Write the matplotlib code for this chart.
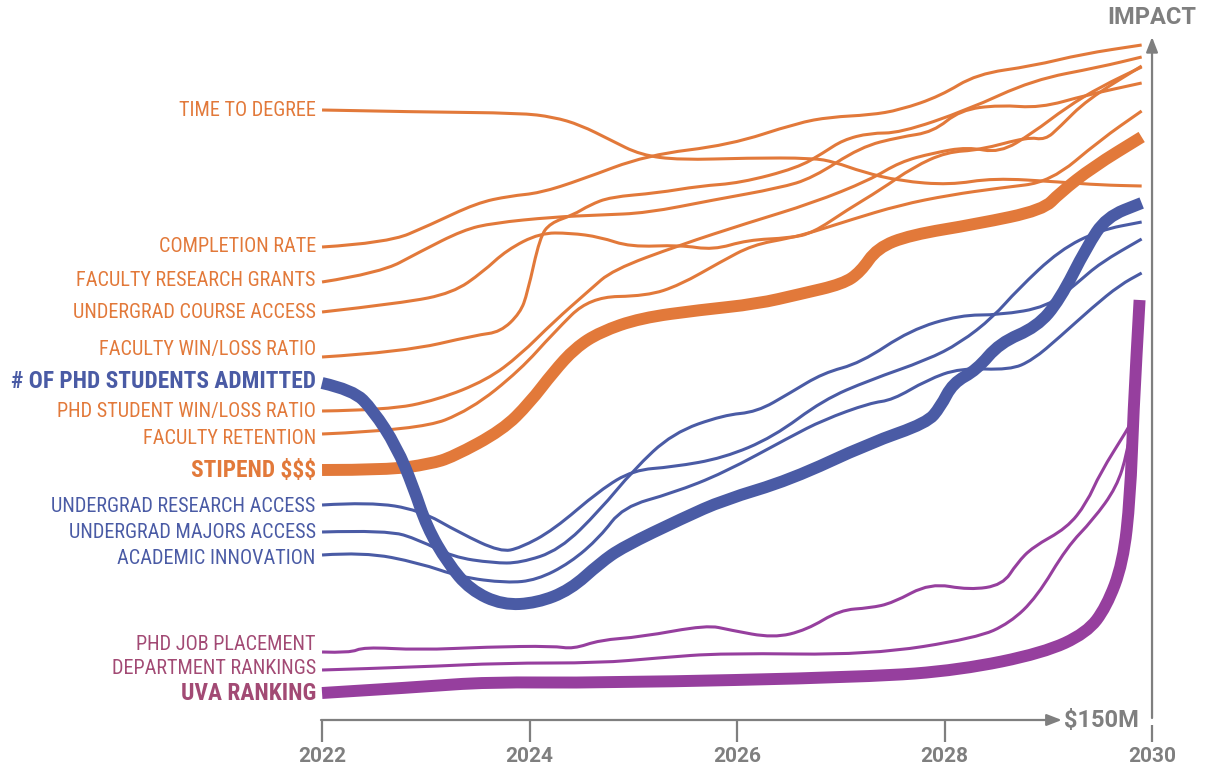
#Description: impact of funding over time, one line per measure, labelled at the left

#import the libraries
import matplotlib
matplotlib.use('Agg')
import matplotlib.pyplot as plt
from matplotlib.path import Path
from matplotlib.patches import PathPatch
from matplotlib import font_manager

#fonts: a narrow family for the labels, a wider one for the axes
names = set(f.name for f in font_manager.fontManager.ttflist)
narrow = [n for n in ['Roboto Condensed', 'Liberation Sans Narrow', 'Roboto'] if n in names]
plt.rcParams['font.family'] = narrow[:1] + ['DejaVu Sans']
AXIS_FONT = ['Roboto', 'DejaVu Sans']

#colours
ORANGE = '#E2793A'
BLUE = '#4A5BA5'
PURPLE = '#963F9E'
MAUVE = '#A24A74'
GREY = '#7F7F7F'

#store the data (year, impact)
ttd_x = [2022.0, 2022.94, 2023.91, 2024.23, 2024.49, 2024.78, 2025.07, 2025.45, 2026.10, 2026.73, 2026.94, 2027.21, 2027.57, 2028.05, 2028.47, 2029.11, 2029.50, 2029.90]
ttd_y = [61.0, 60.8, 60.7, 60.3, 59.5, 58.0, 56.5, 56.0, 56.2, 56.2, 55.8, 54.8, 53.9, 53.5, 54.2, 53.8, 53.5, 53.4]

cr_x = [2022.0, 2022.63, 2023.04, 2023.49, 2023.81, 2024.10, 2024.49, 2025.13, 2025.93, 2026.58, 2026.90, 2027.28, 2027.57, 2027.96, 2028.31, 2028.85, 2029.33, 2029.90]
cr_y = [47.3, 47.7, 49.5, 51.7, 52.4, 52.7, 54.0, 56.5, 57.5, 59.7, 60.3, 60.5, 61.0, 62.4, 64.6, 65.4, 66.6, 67.5]

frg_x = [2022.0, 2022.56, 2022.94, 2023.36, 2023.65, 2024.23, 2024.68, 2025.13, 2025.77, 2026.41, 2026.73, 2027.19, 2027.57, 2027.89, 2028.15, 2028.53, 2028.92, 2029.37, 2029.90]
frg_y = [43.8, 44.7, 46.8, 49.0, 49.7, 50.3, 50.5, 50.7, 52.0, 53.2, 54.2, 57.3, 58.3, 58.8, 61.0, 61.5, 61.2, 62.5, 63.7]

uca_x = [2022.0, 2022.78, 2023.26, 2023.55, 2023.78, 2024.10, 2024.39, 2024.68, 2024.97, 2025.45, 2025.77, 2026.10, 2026.51, 2026.73, 2027.06, 2027.38, 2027.70, 2028.02, 2028.34, 2028.80, 2028.97, 2029.11, 2029.37, 2029.90]
uca_y = [40.8, 41.7, 42.7, 44.8, 47.0, 48.7, 48.7, 48.3, 47.3, 47.5, 47.0, 48.0, 48.2, 48.7, 51.0, 53.0, 55.3, 56.8, 57.0, 58.3, 58.0, 59.3, 62.0, 65.4]

fwl_x = [2022.0, 2022.78, 2023.49, 2023.72, 2023.91, 2023.98, 2024.10, 2024.20, 2024.42, 2024.58, 2024.78, 2025.23, 2025.64, 2026.03, 2026.58, 2026.83, 2027.02, 2027.28, 2027.57, 2028.22, 2028.85, 2029.50, 2029.90]
fwl_y = [36.3, 36.8, 38.5, 38.8, 40.7, 42.7, 48.3, 49.7, 50.5, 51.5, 52.3, 52.7, 53.4, 53.7, 55.2, 56.7, 58.0, 58.7, 58.7, 61.0, 64.0, 65.3, 66.3]

pswl_x = [2022.0, 2022.63, 2023.11, 2023.59, 2023.91, 2024.23, 2024.58, 2024.80, 2025.45, 2026.10, 2026.73, 2027.28, 2027.57, 2027.89, 2028.22, 2028.53, 2028.85, 2029.18, 2029.50, 2029.90]
pswl_y = [30.9, 31.0, 32.0, 34.0, 36.5, 39.8, 43.0, 45.0, 47.5, 49.7, 51.7, 54.0, 55.8, 56.7, 57.3, 56.7, 58.7, 61.3, 63.3, 65.3]

fr_x = [2022.0, 2022.94, 2023.43, 2023.91, 2024.23, 2024.58, 2025.13, 2025.45, 2025.84, 2026.15, 2026.51, 2026.73, 2027.09, 2027.57, 2028.05, 2028.53, 2029.02, 2029.50, 2029.90]
fr_y = [28.6, 29.0, 31.0, 35.0, 38.7, 42.3, 42.4, 43.5, 45.8, 47.5, 48.2, 48.8, 50.0, 51.5, 52.5, 53.2, 53.8, 58.0, 60.9]

stipend_x = [2022.0, 2022.63, 2023.04, 2023.26, 2023.74, 2024.00, 2024.23, 2024.44, 2024.68, 2025.07, 2025.64, 2026.19, 2026.61, 2027.02, 2027.19, 2027.35, 2027.67, 2028.31, 2028.95, 2029.11, 2029.43, 2029.90]
stipend_y = [25.0, 25.0, 25.6, 26.3, 29.0, 31.7, 34.8, 37.2, 38.8, 40.2, 41.0, 41.6, 42.6, 43.6, 44.8, 47.2, 48.5, 49.6, 51.0, 52.7, 55.3, 58.3]

phd_x = [2022.0, 2022.30, 2022.49, 2022.72, 2022.88, 2023.01, 2023.21, 2023.43, 2023.74, 2024.07, 2024.39, 2024.68, 2024.90, 2025.48, 2025.87, 2026.51, 2027.28, 2027.83, 2027.96, 2028.08, 2028.31, 2028.53, 2028.89, 2029.11, 2029.37, 2029.56, 2029.90]
phd_y = [33.7, 33.0, 31.0, 27.3, 23.3, 19.3, 15.7, 13.0, 11.5, 11.7, 13.0, 15.7, 17.3, 20.2, 22.0, 24.0, 27.7, 29.7, 31.3, 33.7, 35.0, 37.7, 39.3, 42.0, 47.3, 50.3, 51.7]

ura_x = [2022.0, 2022.46, 2022.94, 2023.33, 2023.72, 2023.91, 2024.23, 2024.68, 2025.00, 2025.38, 2025.87, 2026.35, 2026.83, 2027.28, 2027.83, 2028.15, 2028.47, 2028.70, 2029.11, 2029.50, 2029.90]
ura_y = [21.5, 21.8, 21.0, 18.7, 16.8, 17.2, 19.0, 23.0, 25.0, 25.3, 26.2, 28.3, 32.0, 34.0, 36.0, 37.7, 40.3, 43.0, 47.0, 49.0, 49.8]

uma_x = [2022.0, 2022.63, 2022.94, 2023.26, 2023.65, 2023.91, 2024.29, 2024.68, 2025.00, 2025.38, 2025.87, 2026.19, 2026.51, 2026.83, 2027.19, 2027.67, 2028.15, 2028.53, 2028.99, 2029.28, 2029.50, 2029.90]
uma_y = [18.8, 19.0, 18.0, 16.3, 15.7, 15.7, 17.0, 21.0, 25.0, 28.7, 30.5, 30.8, 32.7, 34.7, 35.7, 39.0, 40.5, 40.5, 41.3, 43.7, 45.7, 48.1]

ai_x = [2022.0, 2022.40, 2022.94, 2023.33, 2023.78, 2024.07, 2024.39, 2024.68, 2024.90, 2025.38, 2025.87, 2026.51, 2026.83, 2027.28, 2027.50, 2027.83, 2028.15, 2028.63, 2028.85, 2029.11, 2029.43, 2029.69, 2029.90]
ai_y = [16.5, 16.8, 15.7, 14.3, 13.7, 14.0, 15.7, 18.3, 21.3, 22.7, 24.7, 28.3, 30.0, 31.7, 32.0, 34.0, 35.2, 35.0, 36.0, 38.3, 41.3, 43.5, 44.7]

pjp_x = [2022.0, 2022.27, 2022.40, 2022.94, 2023.59, 2024.23, 2024.42, 2024.68, 2025.07, 2025.71, 2025.93, 2026.35, 2026.67, 2026.99, 2027.28, 2027.50, 2027.86, 2028.24, 2028.56, 2028.70, 2028.85, 2029.18, 2029.37, 2029.50, 2029.76, 2029.84]
pjp_y = [6.8, 6.7, 7.3, 7.0, 7.3, 7.4, 7.1, 8.0, 8.3, 9.5, 9.0, 8.2, 9.0, 11.0, 11.2, 11.7, 13.7, 13.0, 13.5, 15.7, 17.3, 19.2, 21.7, 24.7, 29.0, 30.5]

dr_x = [2022.0, 2022.94, 2023.74, 2024.68, 2025.23, 2025.87, 2027.28, 2028.31, 2028.63, 2028.89, 2029.18, 2029.43, 2029.66, 2029.76, 2029.82]
dr_y = [5.0, 5.3, 5.7, 5.7, 6.2, 6.7, 6.5, 8.2, 9.7, 12.3, 17.3, 20.0, 23.3, 26.7, 30.5]

uva_x = [2022.0, 2022.94, 2023.59, 2024.68, 2027.28, 2028.15, 2028.95, 2029.37, 2029.56, 2029.72, 2029.79, 2029.82, 2029.88]
uva_y = [2.7, 3.3, 3.8, 3.7, 4.3, 5.0, 6.7, 8.7, 11.3, 15.7, 22.3, 30.7, 42.0]

year_ticks = [2022, 2024, 2026, 2028, 2030]

#(label, x, y, colour, text colour, bold?, label height) in drawing order
series = [
    ('TIME TO DEGREE', ttd_x, ttd_y, ORANGE, ORANGE, False, 61.0),
    ('COMPLETION RATE', cr_x, cr_y, ORANGE, ORANGE, False, 47.4),
    ('FACULTY RESEARCH GRANTS', frg_x, frg_y, ORANGE, ORANGE, False, 44.0),
    ('UNDERGRAD COURSE ACCESS', uca_x, uca_y, ORANGE, ORANGE, False, 40.8),
    ('FACULTY WIN/LOSS RATIO', fwl_x, fwl_y, ORANGE, ORANGE, False, 37.0),
    ('PHD STUDENT WIN/LOSS RATIO', pswl_x, pswl_y, ORANGE, ORANGE, False, 30.8),
    ('FACULTY RETENTION', fr_x, fr_y, ORANGE, ORANGE, False, 28.1),
    ('STIPEND $$$', stipend_x, stipend_y, ORANGE, ORANGE, True, 25.0),
    ('UNDERGRAD RESEARCH ACCESS', ura_x, ura_y, BLUE, BLUE, False, 21.3),
    ('UNDERGRAD MAJORS ACCESS', uma_x, uma_y, BLUE, BLUE, False, 18.7),
    ('ACADEMIC INNOVATION', ai_x, ai_y, BLUE, BLUE, False, 16.2),
    ('# OF PHD STUDENTS ADMITTED', phd_x, phd_y, BLUE, BLUE, True, 33.8),
    ('PHD JOB PLACEMENT', pjp_x, pjp_y, PURPLE, MAUVE, False, 7.5),
    ('DEPARTMENT RANKINGS', dr_x, dr_y, PURPLE, MAUVE, False, 5.2),
    ('UVA RANKING', uva_x, uva_y, PURPLE, MAUVE, True, 2.7),
]


#Create a function to turn the read points into a smooth path
def smooth_path(xs, ys):
    pts = list(zip(xs, ys))
    verts = [pts[0]]
    codes = [Path.MOVETO]
    for i in range(1, len(pts) - 1):
        mid = ((pts[i][0] + pts[i + 1][0]) / 2, (pts[i][1] + pts[i + 1][1]) / 2)
        verts += [pts[i], mid]
        codes += [Path.CURVE3, Path.CURVE3]
    verts.append(pts[-1])
    codes.append(Path.LINETO)
    return Path(verts, codes)


#Get the figure, one axes over the whole canvas
fig = plt.figure(figsize=(12.12, 7.68), dpi=100)
ax = fig.add_axes([0, 0, 1, 1])
ax.set_xlim(2018.896, 2030.578)
ax.set_ylim(-4.8, 72)
ax.axis('off')

#plot the lines and the labels
for name, xs, ys, col, tcol, bold, ly in series:
    lw = 8.6 if bold else 2.2
    ax.add_patch(PathPatch(smooth_path(xs, ys), fill=False, edgecolor=col, lw=lw,
                           capstyle='butt', joinstyle='round'))
    ax.text(2021.94, ly, name, ha='right', va='center', color=tcol,
            fontsize=16.8 if bold else 14.6, fontweight='bold' if bold else 'normal')

#x axis with arrow
ax.annotate('', xy=(2029.13, 0), xytext=(2021.99, 0),
            arrowprops=dict(arrowstyle='-|>,head_length=0.9,head_width=0.35', color=GREY, lw=1.6,
                            shrinkA=0, shrinkB=0))
ax.text(2029.15, 0, '$150M', ha='left', va='center', color=GREY, fontsize=17,
        fontweight='bold', family=AXIS_FONT)

#y axis with arrow
ax.annotate('', xy=(2030, 68.3), xytext=(2030, 0.2),
            arrowprops=dict(arrowstyle='-|>,head_length=0.9,head_width=0.35', color=GREY, lw=1.6,
                            shrinkA=0, shrinkB=0))
ax.text(2030, 70.3, 'IMPACT', ha='center', va='center', color=GREY, fontsize=17,
        fontweight='bold', family=AXIS_FONT)

#tick marks and year labels
for yr in year_ticks:
    top = -0.5 if yr == 2030 else 0
    ax.plot([yr, yr], [top, -2.2], color=GREY, lw=1.6, solid_capstyle='butt')
    ax.text(yr, -3.7, str(yr), ha='center', va='center', color=GREY, fontsize=15,
            fontweight='bold', family=AXIS_FONT)

plt.savefig('out.png', dpi=100)
